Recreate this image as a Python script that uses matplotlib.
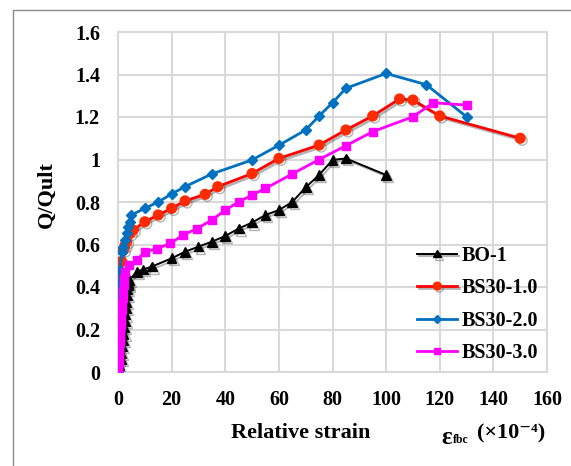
import matplotlib
matplotlib.use("Agg")
import matplotlib.pyplot as plt
import matplotlib.patheffects as pe
from matplotlib.patches import Rectangle

plt.rcParams['font.family'] = ['Liberation Serif', 'DejaVu Serif']
plt.rcParams['font.weight'] = 'bold'

# BO-1
bo1_x = [0, 0.5, 1.0, 1.3, 1.6, 1.9, 2.1, 2.3, 2.5, 2.7, 2.9, 3.1, 3.3, 3.5, 3.7, 3.9, 4.2,
         7, 9.5, 12.6, 20, 25, 30, 35, 40, 45, 50, 55, 60, 65, 70, 75, 80, 85, 100]
bo1_y = [0, 0.03, 0.06, 0.09, 0.12, 0.15, 0.18, 0.21, 0.24, 0.27, 0.30, 0.33, 0.36, 0.39, 0.41, 0.42, 0.433,
         0.472, 0.483, 0.496, 0.535, 0.566, 0.59, 0.613, 0.64, 0.675, 0.703, 0.739, 0.762, 0.80, 0.869,
         0.927, 0.998, 1.005, 0.927]

# BS30-1.0
bs1_x = [0, 0.1, 0.15, 0.2, 0.25, 0.3, 0.35, 0.4, 0.45, 0.5, 0.6, 0.75, 1.3, 2.0, 2.6, 3.2, 4.5, 5.7,
         10, 15, 20, 25, 32.5, 37.2, 50, 60, 75, 85, 95, 105, 110, 120, 150]
bs1_y = [0, 0.04, 0.08, 0.12, 0.16, 0.2, 0.24, 0.28, 0.32, 0.36, 0.41, 0.47, 0.52, 0.574, 0.595, 0.613, 0.652, 0.668,
         0.707, 0.739, 0.77, 0.805, 0.836, 0.872, 0.934, 1.005, 1.068, 1.139, 1.205, 1.285, 1.28, 1.205, 1.1]

# BS30-2.0
bs2_x = [0, 0.1, 0.15, 0.2, 0.25, 0.3, 0.35, 0.4, 0.45, 0.5, 0.6, 0.75, 1.4, 2.0, 2.6, 3.2, 3.9, 4.5, 5,
         10, 15, 20, 25, 35, 50, 60, 70, 75, 80, 85, 100, 115, 130]
bs2_y = [0, 0.04, 0.08, 0.12, 0.16, 0.2, 0.24, 0.28, 0.32, 0.36, 0.42, 0.48, 0.566, 0.59, 0.621, 0.652, 0.684, 0.707, 0.739,
         0.77, 0.80, 0.838, 0.872, 0.932, 0.998, 1.067, 1.139, 1.205, 1.267, 1.335, 1.405, 1.352, 1.201]

# BS30-3.0
bs3_x = [0, 0.1, 0.2, 0.3, 0.4, 0.5, 0.6, 0.7, 0.8, 0.9, 1.0, 1.1, 1.2, 1.35, 1.5, 1.7, 1.9, 2.1, 2.3, 2.6,
         4.2, 7, 10, 14.5, 19.4, 24.4, 29.4, 35, 40, 45, 50, 55, 65, 75, 85, 95, 110, 117.6, 130]
bs3_y = [0, 0.02, 0.045, 0.07, 0.095, 0.12, 0.14, 0.16, 0.18, 0.2, 0.22, 0.24, 0.26, 0.29, 0.32, 0.35, 0.38, 0.41, 0.44, 0.472,
         0.503, 0.527, 0.566, 0.58, 0.605, 0.645, 0.675, 0.715, 0.762, 0.80, 0.833, 0.864, 0.932, 1.0, 1.065,
         1.131, 1.201, 1.267, 1.256]

x_ticks = [0, 20, 40, 60, 80, 100, 120, 140, 160]
y_ticks = [0, 0.2, 0.4, 0.6, 0.8, 1.0, 1.2, 1.4, 1.6]
y_tick_labels = ['0', '0.2', '0.4', '0.6', '0.8', '1', '1.2', '1.4', '1.6']

fig = plt.figure(figsize=(5.71, 4.66), dpi=100)
ax = fig.add_axes([118 / 571, 94 / 466, 429 / 571, 340 / 466])

shadow = [pe.SimpleLineShadow(offset=(1.5, -1.5), shadow_color='#444444', alpha=0.4), pe.Normal()]

ax.plot(bo1_x, bo1_y, color='black', lw=1.4, marker='^', ms=7, label='BO-1',
        path_effects=shadow, zorder=3)
ax.plot(bs1_x, bs1_y, color='#ff0000', lw=2.0, marker='o', ms=7, mfc='#ff2a00', mec='#ff2a00',
        label='BS30-1.0', path_effects=shadow, zorder=4)
ax.plot(bs2_x, bs2_y, color='#0070c0', lw=2.0, marker='D', ms=5.5, label='BS30-2.0', zorder=5)
ax.plot(bs3_x, bs3_y, color='#ff00ff', lw=2.0, marker='s', ms=6, label='BS30-3.0', zorder=6)

ax.set_xlim(0, 160)
ax.set_ylim(0, 1.6)
ax.set_xticks(x_ticks)
ax.set_yticks(y_ticks)
ax.set_yticklabels(y_tick_labels)
ax.tick_params(length=0, labelsize=14.5, pad=13)
ax.grid(True, color='#d9d9d9', lw=1.5)
ax.set_axisbelow(True)
for s in ax.spines.values():
    s.set_color('#d9d9d9')
    s.set_linewidth(1.5)

ax.legend(loc='upper left', bbox_to_anchor=(0.655, 0.425), frameon=False,
          prop={'size': 14.5, 'weight': 'bold'}, handlelength=2.0,
          handletextpad=0.2, labelspacing=0.62, markerscale=0.8)

fig.text(47 / 571, 1 - 195 / 466, 'Q/Qult', rotation=90, ha='center', va='center',
         fontsize=16, fontweight='bold')
fig.text(301 / 571, 1 - 433 / 466, 'Relative strain', ha='center', va='center',
         fontsize=16, fontweight='bold')
fig.text(441 / 571, 1 - 437 / 466, 'ε', ha='left', va='center', fontsize=18, fontweight='bold')
fig.text(453 / 571, 1 - 440 / 466, 'fbc', ha='left', va='center', fontsize=8.5, fontweight='bold')
fig.text(477 / 571, 1 - 433 / 466, '(×10⁻⁴)', ha='left', va='center', fontsize=16, fontweight='bold')

fig.patches.append(Rectangle((13 / 571, -0.2), 1.2, 1.2 - 10 / 466, transform=fig.transFigure,
                             fill=False, edgecolor='#8c8c8c', lw=1.0, clip_on=False))

fig.savefig('out.png', dpi=100)
